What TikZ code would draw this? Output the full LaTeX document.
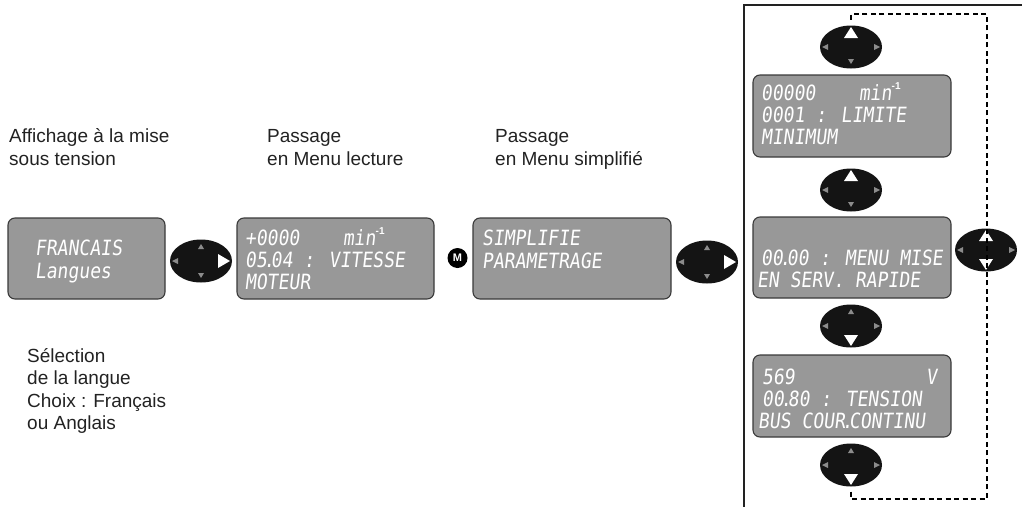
\documentclass[tikz,border=0pt]{standalone}
\usepackage{fontspec}
\setmainfont{Liberation Sans}
\newfontfamily\lcdfont{DejaVu Sans Mono}[FakeSlant=0.12, FakeStretch=0.86]
\usetikzlibrary{shapes.geometric,calc}

\definecolor{lcdgray}{HTML}{989898}
\definecolor{lcdedge}{HTML}{3A3A3A}
\definecolor{padgray}{HTML}{8C8C8C}
\definecolor{ink}{HTML}{222222}

% narrow decimal point of the display font
\newcommand\lcddot{\hbox to 4pt{\hss.\hss}}
% small "-1" exponent shown on the display
\newcommand\lcdexp{\raisebox{0.5em}{\normalfont\bfseries\fontsize{10}{10}\selectfont -1}}
% triangle on a keypad: #1 pad, #2 rotation, #3 half width, #4 base offset, #5 tip offset, #6 style
\newcommand\keytri[6]{\fill[#6, shift={(#1.center)}, rotate=#2] (-#3,-#4) -- (#3,-#4) -- (0,-#5) -- cycle;}
\newcommand\smallup[1]{\keytri{#1}{0}{3}{12}{17}{smalltri}}
\newcommand\smalldown[1]{\keytri{#1}{180}{3}{12}{17}{smalltri}}
\newcommand\smallleft[1]{\keytri{#1}{90}{3}{23}{29}{smalltri}}
\newcommand\smallright[1]{\keytri{#1}{-90}{3}{23}{29}{smalltri}}
\newcommand\bigup[1]{\keytri{#1}{0}{7}{9}{20}{bigtri}}
\newcommand\bigdown[1]{\keytri{#1}{180}{7}{9}{20}{bigtri}}
\newcommand\bigright[1]{\keytri{#1}{-90}{7}{17}{29}{bigtri}}

\tikzset{
  lcd/.style={draw=lcdedge, line width=1.1pt, fill=lcdgray, rounded corners=7pt,
    inner sep=0pt},
  lcdtxt/.style={anchor=base west, inner sep=0pt, text=white,
    font=\lcdfont\fontsize{21}{21}\selectfont},
  caption/.style={anchor=base west, inner sep=0pt, text=ink,
    font=\fontsize{19}{22}\selectfont},
  pad/.style={ellipse, fill=black!92, draw=none, minimum width=62pt,
    minimum height=43pt, inner sep=0pt},
  smalltri/.style={fill=padgray},
  bigtri/.style={fill=white},
  frameline/.style={draw=ink, line width=1.8pt},
  loopline/.style={draw=black, line width=1.6pt, dash pattern=on 5pt off 3.5pt},
}

\begin{document}
\begin{tikzpicture}[x=1pt, y=-1pt]
\useasboundingbox (0,0) rectangle (1022,506);

% captions
\node[caption] (cap1a) at (9,142) {Affichage à la mise};
\node[caption] (cap1b) at (9,165) {sous tension};
\node[caption] (cap2a) at (267,142) {Passage};
\node[caption] (cap2b) at (267,165) {en Menu lecture};
\node[caption] (cap3a) at (495,142) {Passage};
\node[caption] (cap3b) at (495,165) {en Menu simplifié};
\node[caption] (sel1) at (27,362) {Sélection};
\node[caption] (sel2) at (27,384) {de la langue};
\node[caption] (sel3) at (27,407) {Choix : Français};
\node[caption] (sel4) at (27,429) {ou Anglais};

% displays of the main row
\node[lcd, minimum width=157pt, minimum height=81pt] (scrLang) at (86.5,258.5) {};
\node[lcdtxt] (scrLang1) at (35,255) {FRANCAIS};
\node[lcdtxt] (scrLang2) at (35,278) {Langues};

\node[lcd, minimum width=197pt, minimum height=81pt] (scrRead) at (335.5,258.5) {};
\node[lcdtxt] (scrRead1) at (245,245) {+0000\hphantom{0000}min\lcdexp};
\node[lcdtxt] (scrRead2) at (245,267) {05\lcddot04 : VITESSE};
\node[lcdtxt] (scrRead3) at (245,289) {MOTEUR};

\node[lcd, minimum width=198pt, minimum height=81pt] (scrSimp) at (572,258.5) {};
\node[lcdtxt] (scrSimp1) at (482,245) {SIMPLIFIE};
\node[lcdtxt] (scrSimp2) at (482,268) {PARAMETRAGE};

% keypads and M key of the main row
\node[pad] (padA) at (201,261) {};
\smallup{padA}\smalldown{padA}\smallleft{padA}\bigright{padA}

\node[circle, fill=black, minimum size=20pt, inner sep=0pt, text=white,
  font=\bfseries\fontsize{11}{11}\selectfont] (mkey) at (457.5,258) {M};

\node[pad] (padB) at (707,262) {};
\smallup{padB}\smalldown{padB}\smallleft{padB}\bigright{padB}

% open frame of the simplified menu
\coordinate (frameTL) at (744,5);
\draw[frameline] (744,508) -- (frameTL) -- (1024,5);

% simplified menu column
\node[pad] (padTop) at (851,47) {};
\bigup{padTop}\smalldown{padTop}\smallleft{padTop}\smallright{padTop}

\node[lcd, minimum width=198pt, minimum height=82pt] (scrMin) at (852,116) {};
\node[lcdtxt] (scrMin1) at (761,100) {00000\hphantom{0000}min\lcdexp};
\node[lcdtxt] (scrMin2) at (761,122) {0001 : LIMITE};
\node[lcdtxt] (scrMin3) at (761,144) {MINIMUM};

\node[pad] (padUp) at (851,190) {};
\bigup{padUp}\smalldown{padUp}\smallleft{padUp}\smallright{padUp}

\node[lcd, minimum width=198pt, minimum height=81pt] (scrQuick) at (852,257.5) {};
\node[lcdtxt] (scrQuick1) at (761,265) {00\lcddot00 : MENU MISE};
\node[lcdtxt] (scrQuick2) at (757,287) {EN SERV. RAPIDE};

\node[pad] (padSide) at (986,250) {};
\bigup{padSide}\bigdown{padSide}\smallleft{padSide}\smallright{padSide}

\node[pad] (padDown) at (851,326) {};
\smallup{padDown}\bigdown{padDown}\smallleft{padDown}\smallright{padDown}

\node[lcd, minimum width=198pt, minimum height=82pt] (scrBus) at (852,396) {};
\node[lcdtxt] (scrBus1) at (762,384) {569};
\node[lcdtxt] (scrBus1v) at (926,384) {V};
\node[lcdtxt] (scrBus2) at (762,406) {00\lcddot80 : TENSION};
\node[lcdtxt] (scrBus3) at (758,428) {BUS COUR\lcddot CONTINU};

\node[pad] (padLast) at (851,465) {};
\smallup{padLast}\bigdown{padLast}\smallleft{padLast}\smallright{padLast}

% dashed return loop from the last keypad back to the first
\coordinate (loopSE) at (987,499);
\coordinate (loopNE) at (987,14);
\draw[loopline] ($(padLast.south)+(0,5)$) |- (loopSE) -- (loopNE)
  -| ($(padTop.north)+(0,-4)$);
\end{tikzpicture}
\end{document}
